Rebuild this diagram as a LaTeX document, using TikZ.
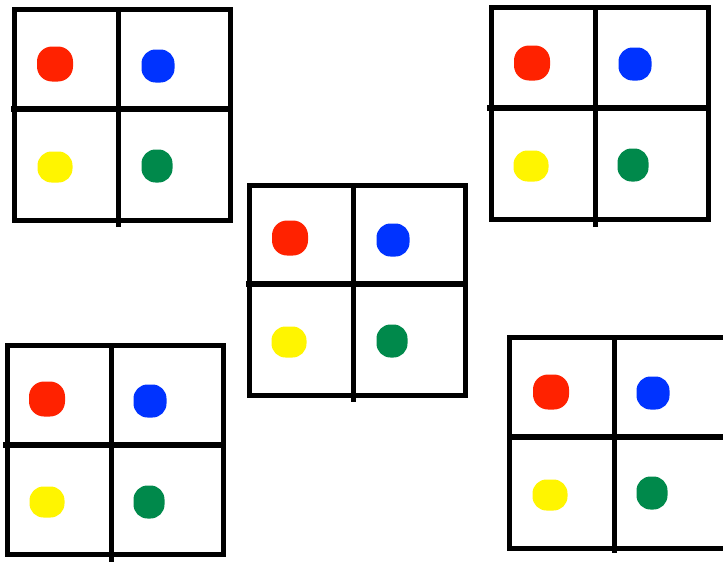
\documentclass[tikz,border=0pt]{standalone}
\begin{document}
\begin{tikzpicture}[x=1pt,y=-1pt,
  frame/.style={draw=black,line width=5pt,line join=miter},
  vmid/.style={draw=black,line width=5pt},
  hmid/.style={draw=black,line width=6.5pt},
  spot/.style={rectangle,rounded corners=15pt,inner sep=0pt,draw=none},
  reddot/.style={spot,fill=dred,minimum width=36pt,minimum height=35pt},
  bluedot/.style={spot,fill=dblue,minimum width=33pt,minimum height=33pt,rounded corners=14pt},
  yeldot/.style={spot,fill=dyel,minimum width=35pt,minimum height=31pt,rounded corners=14pt},
  grndot/.style={spot,fill=dgreen,minimum width=31pt,minimum height=33pt,rounded corners=14pt}]
\definecolor{dred}{RGB}{255,34,0}
\definecolor{dblue}{RGB}{0,51,255}
\definecolor{dyel}{RGB}{255,245,0}
\definecolor{dgreen}{RGB}{0,137,75}
\newcommand{\fourgrid}[8]{%
  \draw[frame] (#1,#2) rectangle (#3,#4);
  \draw[vmid] (#5,#2) -- (#5,#8);
  \draw[hmid] (#7,#6) -- (#3,#6);}
\newcommand{\dotset}[9]{%
  \node[reddot] (#1r) at (#2,#3) {};
  \node[bluedot] (#1b) at (#4,#5) {};
  \node[yeldot] (#1y) at (#6,#7) {};
  \node[grndot] (#1g) at (#8,#9) {};}
\fill[white] (0,0) rectangle (723,562);
\useasboundingbox (0,0) rectangle (723,562);
\begin{scope}
\clip (0,0) rectangle (723,562);
\fourgrid{14}{9}{230}{220}{118}{109}{11}{227}
\fourgrid{491}{7}{708}{219}{595}{108}{487}{227}
\fourgrid{249}{185}{465}{395}{353}{284}{246}{402}
\fourgrid{7}{345}{223}{554}{111}{445}{3}{565}
\fourgrid{509}{337}{728}{548}{614}{437}{507}{553}
\end{scope}
\dotset{a}{55}{64}{158}{66}{55}{167}{157}{166}
\dotset{b}{532}{63}{635}{64}{531}{166}{633}{165}
\dotset{c}{290}{238}{393}{240}{289}{342}{392}{341}
\dotset{d}{47}{399}{150}{401}{47}{502}{149}{502}
\dotset{e}{551}{392}{653}{393}{550}{495}{652}{493}
\end{tikzpicture}
\end{document}
